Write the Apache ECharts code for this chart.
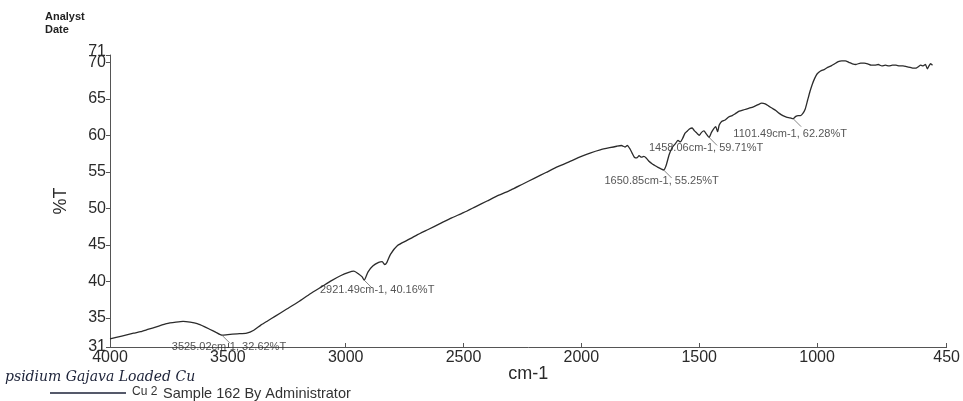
<!DOCTYPE html>
<html>
<head>
<meta charset="utf-8">
<title>FTIR spectrum - Cu 2 Sample 162</title>
<script src="https://cdn.jsdelivr.net/npm/echarts@6.0.0/dist/echarts.min.js"></script>
<style>
  html, body { margin: 0; padding: 0; background: #ffffff; }
  #chart { width: 963px; height: 401px; }
</style>
</head>
<body>
<div id="chart"></div>
<script>
// Wavenumbers (cm-1) of the recorded spectrum, high to low
const wavenumbers = [
  4000, 3950, 3900, 3870, 3840, 3800, 3760, 3720, 3690, 3660,
  3630, 3600, 3575, 3550, 3525.02, 3500, 3460, 3420, 3390, 3360,
  3330, 3300, 3250, 3200, 3150, 3100, 3060, 3020, 2990, 2965,
  2945, 2930, 2921.49, 2905, 2885, 2860, 2845, 2835, 2825, 2810,
  2780, 2740, 2700, 2650, 2600, 2550, 2500, 2450, 2400, 2350,
  2300, 2250, 2200, 2150, 2100, 2050, 2000, 1960, 1920, 1880,
  1850, 1830, 1815, 1805, 1795, 1785, 1775, 1765, 1755, 1745,
  1735, 1725, 1712, 1700, 1690, 1675, 1662, 1650.85, 1640, 1628,
  1615, 1600, 1590, 1580, 1570, 1560, 1550, 1540, 1530, 1520,
  1510, 1500, 1490, 1480, 1470, 1458.06, 1448, 1438, 1430, 1422,
  1415, 1405, 1390, 1375, 1360, 1345, 1330, 1310, 1290, 1270,
  1250, 1235, 1220, 1205, 1190, 1175, 1160, 1145, 1130, 1115,
  1101.49, 1090, 1080, 1070, 1060, 1050, 1040, 1030, 1020, 1010,
  1000, 985, 970, 955, 940, 925, 910, 895, 880, 865,
  850, 835, 815, 800, 785, 770, 755, 740, 725, 710,
  695, 680, 665, 650, 635, 620, 605, 590, 580, 570,
  560, 550, 540, 532, 525, 518, 510
];

// Transmittance (%T) at each wavenumber above
const transmittance = [
  32.1, 32.5, 32.9, 33.1, 33.4, 33.8, 34.2, 34.4, 34.5, 34.4,
  34.2, 33.8, 33.4, 33.0, 32.62, 32.7, 32.8, 32.9, 33.3, 34.0,
  34.6, 35.2, 36.2, 37.2, 38.3, 39.3, 40.1, 40.8, 41.2, 41.4,
  41.0, 40.6, 40.16, 41.3, 42.1, 42.6, 42.7, 42.3, 42.6, 43.7,
  44.9, 45.6, 46.3, 47.1, 47.9, 48.7, 49.4, 50.2, 51.0, 51.8,
  52.5, 53.3, 54.1, 54.9, 55.7, 56.4, 57.1, 57.6, 58.0, 58.3,
  58.5, 58.6, 58.4, 58.6, 58.2, 57.6, 57.0, 56.9, 57.2, 57.0,
  57.1, 56.9, 56.4, 56.1, 55.9, 55.6, 55.4, 55.25, 55.9, 57.3,
  58.3, 58.9, 59.3, 59.1, 59.6, 60.3, 60.6, 60.9, 61.0, 60.6,
  60.3, 60.0, 60.4, 60.6, 60.2, 59.71, 60.4, 60.9, 61.2, 60.5,
  61.4, 61.9, 62.1, 62.5, 62.7, 63.0, 63.3, 63.5, 63.7, 63.9,
  64.2, 64.4, 64.3, 64.0, 63.7, 63.4, 63.0, 62.7, 62.5, 62.4,
  62.28, 62.6, 62.7, 62.7, 63.0, 63.6, 64.8, 66.0, 67.0, 67.8,
  68.4, 68.8, 69.0, 69.3, 69.5, 69.8, 70.1, 70.2, 70.2, 70.0,
  69.8, 69.7, 69.9, 69.9, 69.8, 69.6, 69.6, 69.7, 69.5, 69.6,
  69.5, 69.6, 69.6, 69.5, 69.5, 69.4, 69.3, 69.2, 69.2, 69.4,
  69.6, 69.5, 69.7, 69.1, 69.5, 69.8, 69.6
];

// Picked absorption peaks
const peakWavenumbers = [3525.02, 2921.49, 1650.85, 1458.06, 1101.49];
const peakTransmittance = [32.62, 40.16, 55.25, 59.71, 62.28];

// Axis tick values (the top limit 71 sits on its own axis so it does not hide 70)
const xTicks = [4000, 3500, 3000, 2500, 2000, 1500, 1000, 450];
const yTicks = [31, 35, 40, 45, 50, 55, 60, 65, 70];
const yTopTick = [71];

// Where each peak label sits relative to its leader stroke (pixels)
const peakLabelShift = [[3, 8], [9, 6], [-6, 7], [-7, 7], [-7, 11]];

const spectrum = wavenumbers.map((w, i) => [w, transmittance[i]]);
const peaks = peakWavenumbers.map((w, i) => [w, peakTransmittance[i]]);

const FONT = '"Liberation Sans", Arial, sans-serif';
const INK = '#2a2a2a';

const chart = echarts.init(document.getElementById('chart'), null, { renderer: 'canvas' });

const yLabelStyle = {
  margin: 4,
  fontFamily: FONT,
  fontSize: 16,
  color: INK,
  formatter: v => String(v)
};

chart.setOption({
  backgroundColor: '#ffffff',
  animation: false,
  grid: { left: 110, right: 14, top: 55, bottom: 54 },
  xAxis: {
    type: 'value',
    inverse: true,
    min: 450,
    max: 4000,
    name: 'cm-1',
    nameLocation: 'middle',
    nameGap: 18,
    nameMoveOverlap: false,
    nameTextStyle: { fontFamily: FONT, fontSize: 18, color: INK },
    splitLine: { show: false },
    axisLine: { lineStyle: { color: '#555', width: 1 } },
    axisTick: { show: true, inside: true, length: 4, customValues: xTicks, lineStyle: { color: '#555' } },
    axisLabel: {
      customValues: xTicks,
      margin: 3,
      fontFamily: FONT,
      fontSize: 16,
      color: INK,
      formatter: v => String(v)
    }
  },
  yAxis: [
    {
      type: 'value',
      min: 31,
      max: 71,
      name: '%T',
      nameLocation: 'middle',
      nameGap: 40,
      nameRotate: 90,
      nameTextStyle: { fontFamily: FONT, fontSize: 18, color: INK },
      splitLine: { show: false },
      axisLine: { show: true, lineStyle: { color: '#555', width: 1 } },
      axisTick: { show: true, length: 4, customValues: yTicks, lineStyle: { color: '#555' } },
      axisLabel: Object.assign({ customValues: yTicks, showMinLabel: true }, yLabelStyle)
    },
    {
      type: 'value',
      position: 'left',
      min: 31,
      max: 71,
      splitLine: { show: false },
      axisLine: { show: false },
      axisTick: { show: true, length: 4, customValues: yTopTick, lineStyle: { color: '#555' } },
      axisLabel: Object.assign({
        customValues: yTopTick,
        showMaxLabel: true,
        verticalAlign: 'bottom',
        lineHeight: 6
      }, yLabelStyle)
    }
  ],
  series: [
    {
      name: 'Cu 2',
      type: 'line',
      data: spectrum,
      yAxisIndex: 0,
      showSymbol: false,
      smooth: 0.2,
      lineStyle: { color: '#2b2b2b', width: 1.3 },
      z: 3
    },
    {
      // Peak markers: a short leader stroke below each peak, plus its label
      name: 'peaks',
      type: 'scatter',
      data: peaks,
      yAxisIndex: 0,
      symbol: 'path://M0,0 L10,10',
      symbolSize: [8, 8],
      symbolOffset: [4, 4],
      silent: true,
      itemStyle: { color: 'none', borderColor: '#666', borderWidth: 1 },
      label: {
        show: true,
        position: 'inside',
        fontFamily: FONT,
        fontSize: 11,
        color: '#2a2a2a',
        formatter: p => p.value[0].toFixed(2) + 'cm-1, ' + p.value[1].toFixed(2) + '%T'
      },
      labelLayout: p => ({
        dx: peakLabelShift[p.dataIndex][0],
        dy: peakLabelShift[p.dataIndex][1]
      }),
      z: 4
    }
  ],
  graphic: [
    { type: 'text', left: 45, top: 11, style: { text: 'Analyst', font: 'bold 11px ' + FONT, fill: '#222' } },
    { type: 'text', left: 45, top: 24, style: { text: 'Date', font: 'bold 11px ' + FONT, fill: '#222' } },
    { type: 'text', left: 5, top: 370, style: { text: 'psidium Gajava Loaded Cu', font: 'italic 14px "DejaVu Serif", serif', fill: '#1c2238' } },
    { type: 'line', shape: { x1: 50, y1: 393, x2: 126, y2: 393 }, style: { stroke: '#1c2238', lineWidth: 1.5 } },
    { type: 'text', left: 132, top: 386, style: { text: 'Cu 2', font: '12px ' + FONT, fill: '#333' } },
    { type: 'text', left: 163, top: 386, style: { text: 'Sample 162 By Administrator', font: '14.5px ' + FONT, fill: '#333' } }
  ]
});
</script>
</body>
</html>
